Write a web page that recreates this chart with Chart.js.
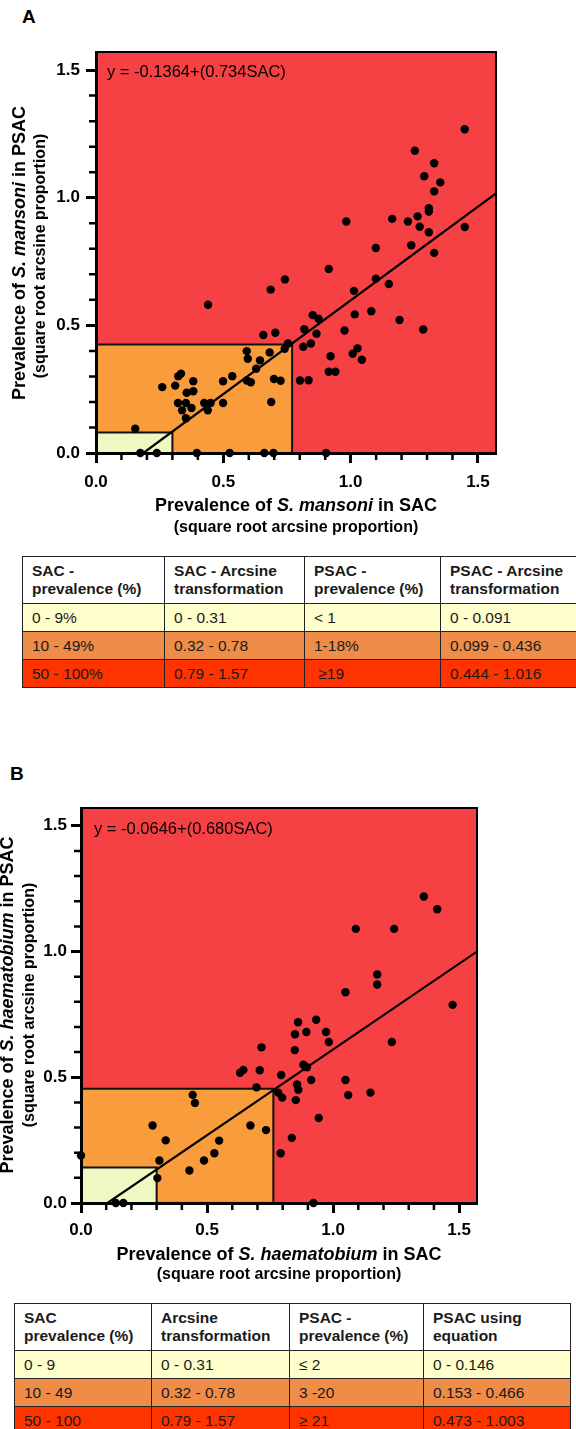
<!DOCTYPE html>
<html>
<head>
<meta charset="utf-8">
<script src="https://cdn.jsdelivr.net/npm/chart.js@4.4.0/dist/chart.umd.min.js"></script>
<style>
  body { margin: 0; width: 576px; height: 1429px; position: relative; background: #fff; overflow: hidden;
         font-family: "Liberation Sans", Arial, sans-serif; color: #000; }
  canvas { position: absolute; left: 0; }
  .lbl { position: absolute; font-weight: bold; font-size: 19px; line-height: 19px; }
  .ttl, .sub, .eq { position: absolute; white-space: nowrap; }
  .ttl { font-weight: bold; font-size: 18px; line-height: 20px; transform: translate(-50%, -50%); }
  .sub { font-weight: bold; font-size: 16px; line-height: 18px; transform: translate(-50%, -50%); }
  .rot { transform: translate(-50%, -50%) rotate(-90deg); }
  .eq { font-size: 16.5px; line-height: 20px; transform: translateY(-50%); }
  table { position: absolute; border-collapse: collapse; table-layout: fixed; font-size: 15.5px; color: #1a1a1a; }
  th, td { border: 1px solid #222; text-align: left; padding: 0 0 0 9px; vertical-align: middle; white-space: nowrap; }
  th { height: 46px; line-height: 18px; font-weight: bold; font-size: 15.5px; background: #fff; }
  td { height: 27px; line-height: 18px; }
</style>
</head>
<body>

<div class="lbl" style="left:22px;top:7px">A</div>
<canvas id="chartA" width="576" height="500" style="top:0"></canvas>
<div class="eq" style="left:107px;top:71px">y = -0.1364+(0.734SAC)</div>
<div class="ttl" style="left:296px;top:505px">Prevalence of <i>S. mansoni</i> in SAC</div>
<div class="sub" style="left:296px;top:527px">(square root arcsine proportion)</div>
<div class="ttl rot" style="left:19px;top:253px">Prevalence of <i>S. mansoni</i> in PSAC</div>
<div class="sub rot" style="left:40px;top:256px">(square root arcsine proportion)</div>
<table id="tableA" style="left:22px;top:556px"></table>

<div class="lbl" style="left:10px;top:764px">B</div>
<canvas id="chartB" width="576" height="500" style="top:750px"></canvas>
<div class="eq" style="left:94px;top:828px">y = -0.0646+(0.680SAC)</div>
<div class="ttl" style="left:279px;top:1254px">Prevalence of <i>S. haematobium</i> in SAC</div>
<div class="sub" style="left:279px;top:1274px">(square root arcsine proportion)</div>
<div class="ttl rot" style="left:7px;top:1005px">Prevalence of <i>S. haematobium</i> in PSAC</div>
<div class="sub rot" style="left:29px;top:1005px">(square root arcsine proportion)</div>
<table id="tableB" style="left:14px;top:1303px"></table>

<script>
// Panel A: S. mansoni, SAC vs PSAC (square root arcsine proportion)
var sacA = [0.154, 0.174, 0.239, 0.260, 0.311, 0.322, 0.323, 0.334, 0.338, 0.353, 0.353, 0.356, 0.375, 0.382,
  0.382, 0.396, 0.425, 0.439, 0.440, 0.450, 0.499, 0.499, 0.525, 0.535, 0.592, 0.596, 0.592, 0.608, 0.629,
  0.644, 0.657, 0.661, 0.682, 0.686, 0.688, 0.697, 0.699, 0.704, 0.725, 0.741, 0.742, 0.754, 0.801, 0.814,
  0.818, 0.835, 0.844, 0.851, 0.866, 0.874, 0.904, 0.914, 0.914, 0.921, 0.940, 0.976, 0.983, 1.008, 1.013,
  1.016, 1.027, 1.044, 1.081, 1.099, 1.099, 1.150, 1.163, 1.192, 1.225, 1.238, 1.252, 1.263, 1.271, 1.285,
  1.289, 1.307, 1.307, 1.307, 1.328, 1.328, 1.328, 1.352, 1.448, 1.448];
var psacA = [0.095, 0, 0, 0.258, 0.264, 0.196, 0.301, 0.311, 0.167, 0.196, 0.136, 0.236, 0.176, 0.281,
  0.242, 0, 0.196, 0.167, 0.581, 0.196, 0.281, 0.196, 0, 0.301, 0.399, 0.369, 0.284, 0.277, 0.330,
  0.363, 0.462, 0, 0.394, 0.640, 0.200, 0, 0.290, 0.471, 0.283, 0.408, 0.680, 0.429, 0.284, 0.416,
  0.485, 0.285, 0.429, 0.540, 0.467, 0.526, 0, 0.318, 0.721, 0.379, 0.318, 0.480, 0.907, 0.389, 0.635,
  0.543, 0.410, 0.365, 0.555, 0.683, 0.803, 0.662, 0.917, 0.521, 0.907, 0.814, 1.184, 0.927, 0.886, 0.484,
  1.084, 0.959, 0.946, 0.865, 1.135, 1.025, 0.784, 1.060, 1.268, 0.885];
var fitAx = [0.186, 1.5708];
var fitAy = [0, 1.017];
// zone corners: [low, moderate]
var zoneAx = [0.30, 0.77];
var zoneAy = [0.08, 0.425];
var zoneAbase = [0, 0];

// Panel B: S. haematobium
var sacB = [0.000, 0.138, 0.168, 0.284, 0.303, 0.311, 0.336, 0.430, 0.443, 0.452, 0.488, 0.529, 0.548,
  0.631, 0.644, 0.672, 0.696, 0.709, 0.716, 0.734, 0.782, 0.792, 0.794, 0.798, 0.836, 0.848, 0.849, 0.852,
  0.857, 0.861, 0.862, 0.882, 0.894, 0.896, 0.913, 0.922, 0.933, 0.943, 0.972, 0.983, 1.049, 1.049, 1.060,
  1.090, 1.148, 1.175, 1.175, 1.233, 1.242, 1.360, 1.413, 1.474];
var psacB = [0.189, 0, 0, 0.308, 0.099, 0.169, 0.249, 0.129, 0.430, 0.398, 0.169, 0.198, 0.248,
  0.518, 0.529, 0.308, 0.460, 0.528, 0.619, 0.290, 0.439, 0.198, 0.509, 0.419, 0.259, 0.608, 0.671, 0.409,
  0.471, 0.719, 0.450, 0.550, 0.680, 0.540, 0.489, 0, 0.729, 0.338, 0.680, 0.640, 0.838, 0.489, 0.429,
  1.090, 0.439, 0.909, 0.869, 0.640, 1.090, 1.219, 1.168, 0.788];
var fitBx = [0.105, 1.5708];
var fitBy = [0, 1.0];
var zoneBx = [0.30, 0.763];
var zoneBy = [0.141, 0.454];
var zoneBbase = [0, 0.005];

var axisMax = 1.5708;
var majorTicks = [0, 0.5, 1.0, 1.5];
var minorTicks = [0.1, 0.2, 0.3, 0.4, 0.6, 0.7, 0.8, 0.9, 1.1, 1.2, 1.3, 1.4];

// tables
var tableAHead = ['SAC -<br>prevalence (%)', 'SAC - Arcsine<br>transformation', 'PSAC -<br>prevalence (%)', 'PSAC - Arcsine<br>transformation'];
var tableARows = [
  ['0 - 9%', '0 - 0.31', '&lt; 1', '0 - 0.091'],
  ['10 - 49%', '0.32 - 0.78', '1-18%', '0.099 - 0.436'],
  ['50 - 100%', '0.79 - 1.57', '&nbsp;≥19', '0.444 - 1.016']
];
var tableBHead = ['SAC<br>prevalence (%)', 'Arcsine<br>transformation', 'PSAC -<br>prevalence (%)', 'PSAC using<br>equation'];
var tableBRows = [
  ['0 - 9', '0 - 0.31', '≤ 2', '0 - 0.146'],
  ['10 - 49', '0.32 - 0.78', '3 -20', '0.153 - 0.466'],
  ['50 - 100', '0.79 - 1.57', '≥ 21', '0.473 - 1.003']
];
var rowColors = ['#FFFFCC', '#EE8C48', '#FF3300'];

Chart.defaults.font.family = '"Liberation Sans", Arial, sans-serif';

// red plot area with frame
var plotFrame = {
  id: 'plotFrame',
  beforeDatasetsDraw: function (chart) {
    var ctx = chart.ctx, a = chart.chartArea;
    ctx.save();
    ctx.fillStyle = '#F64144';
    ctx.fillRect(a.left, a.top, a.right - a.left, a.bottom - a.top);
    ctx.strokeStyle = '#000';
    ctx.lineWidth = 2;
    ctx.strokeRect(a.left, a.top, a.right - a.left, a.bottom - a.top);
    ctx.restore();
  }
};

// short minor ticks every 0.1
var minorTickMarks = {
  id: 'minorTickMarks',
  afterDraw: function (chart) {
    var ctx = chart.ctx, a = chart.chartArea;
    var xs = chart.scales.x, ys = chart.scales.y;
    ctx.save();
    ctx.strokeStyle = '#000';
    ctx.lineWidth = 2.5;
    ctx.beginPath();
    minorTicks.forEach(function (v) {
      var px = xs.getPixelForValue(v), py = ys.getPixelForValue(v);
      ctx.moveTo(px, a.bottom); ctx.lineTo(px, a.bottom + 7);
      ctx.moveTo(a.left, py); ctx.lineTo(a.left - 7, py);
    });
    ctx.stroke();
    ctx.restore();
  }
};

function axis(fit, pad) {
  return {
    type: 'linear', min: 0, max: axisMax, z: 1,
    afterBuildTicks: function (s) { s.ticks = majorTicks.map(function (v) { return { value: v }; }); },
    afterFit: fit,
    grid: { drawOnChartArea: false, tickColor: '#000', tickLength: 10, tickWidth: 3, z: 1 },
    border: { color: '#000', width: 3, z: 1 },
    ticks: {
      color: '#000', padding: pad, maxRotation: 0, autoSkip: false,
      font: { size: 17, weight: 'bold' },
      callback: function (v) { return v.toFixed(1); }
    }
  };
}

function makeChart(id, sac, psac, fitX, fitY, zoneX, zoneY, zoneBase, L) {
  var pts = sac.map(function (x, i) { return { x: x, y: psac[i] }; });
  var fit = fitX.map(function (x, i) { return { x: x, y: fitY[i] }; });
  function zone(i) {
    return [{ x: 0, y: zoneY[i] }, { x: zoneX[i], y: zoneY[i] }, { x: zoneX[i], y: zoneBase[i] }];
  }
  return new Chart(document.getElementById(id), {
    type: 'scatter',
    data: {
      datasets: [
        { data: pts, backgroundColor: '#000', borderWidth: 0, pointRadius: 4.2, clip: false, order: 0 },
        { type: 'line', data: fit, borderColor: '#000', borderWidth: 2.2, pointRadius: 0, fill: false, order: 1 },
        { type: 'line', data: zone(0), borderColor: '#111', borderWidth: 2, pointRadius: 0,
          backgroundColor: '#EFF8C2', fill: { value: zoneBase[0] }, order: 2 },
        { type: 'line', data: zone(1), borderColor: '#111', borderWidth: 2, pointRadius: 0,
          backgroundColor: '#F89C3C', fill: { value: zoneBase[1] }, order: 3 }
      ]
    },
    options: {
      responsive: false,
      animation: false,
      devicePixelRatio: 1,
      layout: { padding: { top: L.top, right: L.right, left: 0, bottom: 0 } },
      plugins: { legend: { display: false }, tooltip: { enabled: false } },
      scales: {
        x: axis(function (s) { s.height = 47; }, L.xPad),
        y: axis(function (s) { s.width = L.left; }, L.yPad)
      }
    },
    plugins: [plotFrame, minorTickMarks]
  });
}

function fillTable(id, widths, head, rows) {
  var t = document.getElementById(id);
  var html = '<colgroup>' + widths.map(function (w) { return '<col style="width:' + w + 'px">'; }).join('') + '</colgroup>';
  html += '<tr>' + head.map(function (h) { return '<th>' + h + '</th>'; }).join('') + '</tr>';
  rows.forEach(function (r, i) {
    html += '<tr style="background:' + rowColors[i] + '">' + r.map(function (c) { return '<td>' + c + '</td>'; }).join('') + '</tr>';
  });
  t.innerHTML = html;
  t.style.width = widths.reduce(function (a, b) { return a + b; }, 0) + 'px';
}

makeChart('chartA', sacA, psacA, fitAx, fitAy, zoneAx, zoneAy, zoneAbase, { top: 52, right: 80, left: 96, xPad: 9, yPad: 6 });
makeChart('chartB', sacB, psacB, fitBx, fitBy, zoneBx, zoneBy, zoneBbase, { top: 58, right: 99, left: 81, xPad: 7, yPad: 4 });

fillTable('tableA', [142, 140, 136, 136], tableAHead, tableARows);
fillTable('tableB', [137, 138, 134, 147], tableBHead, tableBRows);
</script>
</body>
</html>
